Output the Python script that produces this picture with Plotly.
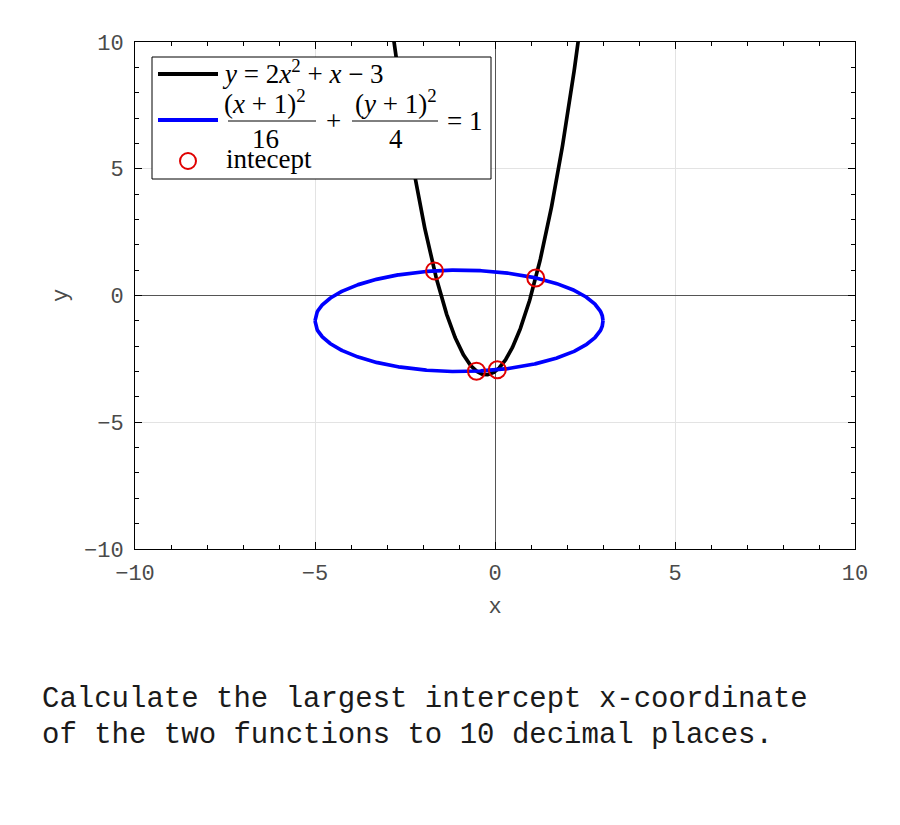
import numpy as np
import plotly.graph_objects as go

# Functions shown in the chart
para_coef = [2, 1, -3]          # y = 2x^2 + x - 3
ell_center = (-1, -1)           # (x+1)^2/16 + (y+1)^2/4 = 1
ell_axes = (4, 2)
x_ticks = [-10, -5, 0, 5, 10]
y_ticks = [-10, -5, 0, 5, 10]
question = ["Calculate the largest intercept x-coordinate",
            "of the two functions to 10 decimal places."]

a, b, c = para_coef
xp = np.linspace(-3.0, 2.5, 400)
yp = a * xp**2 + b * xp + c

h, k = ell_center
A, B = ell_axes
xe = np.linspace(h - A, h + A, 400)
half = B * np.sqrt(np.clip(1 - ((xe - h) / A) ** 2, 0, None))
ex = np.concatenate([xe, [None], xe])
ey = np.concatenate([k + half, [None], k - half])

# intersections: substitute parabola in ellipse -> quartic
p = np.poly1d(para_coef) - k
q = np.poly1d([1, -h])
poly = B**2 * q**2 + A**2 * p**2 - (A * B) ** 2
rts = np.roots(poly.coeffs)
ix = np.sort(rts[np.isreal(rts)].real)
iy = a * ix**2 + b * ix + c

fig = go.Figure()
fig.add_trace(go.Scatter(x=xp, y=yp, mode="lines", line=dict(color="black", width=3.7), showlegend=False))
fig.add_trace(go.Scatter(x=ex, y=ey, mode="lines", line=dict(color="#0000ff", width=3.7), showlegend=False))
fig.add_trace(go.Scatter(x=ix, y=iy, mode="markers",
                         marker=dict(symbol="circle-open", size=17, color="#e00000", line=dict(width=2)),
                         showlegend=False))

# plot area in screen pixels (page body adds an 8px offset)
OFF = 8
L, R, T, Bt = 135, 855, 42, 549
def px(v): return (v - L) / (R - L)
def py(v): return (Bt - v) / (Bt - T)

tickfont = dict(family="Liberation Mono", size=22, color="#4a4a4a")
axis_common = dict(range=[-10, 10], showline=True, linecolor="black", linewidth=1, mirror="ticks",
                   ticks="inside", ticklen=7, tickcolor="black", tickfont=tickfont, automargin=False,
                   showgrid=True, gridcolor="#e3e3e3", gridwidth=1,
                   zeroline=True, zerolinecolor="#555555", zerolinewidth=1,
                   minor=dict(ticks="inside", dtick=1, ticklen=4, tickcolor="black", showgrid=False))
fig.update_xaxes(tickvals=x_ticks, ticklabelstandoff=4,
                 title=dict(text="x", font=tickfont, standoff=11), **axis_common)
fig.update_yaxes(tickvals=y_ticks, ticklabelstandoff=6,
                 title=dict(text="y", font=tickfont, standoff=10), **axis_common)

shapes = []
annos = []
# legend box
shapes.append(dict(type="rect", xref="paper", yref="paper", x0=px(152), x1=px(491), y0=py(179), y1=py(57),
                   line=dict(color="black", width=1), fillcolor="white", layer="above"))
shapes.append(dict(type="line", xref="paper", yref="paper", x0=px(158), x1=px(218), y0=py(74), y1=py(74),
                   line=dict(color="black", width=4), layer="above"))
shapes.append(dict(type="line", xref="paper", yref="paper", x0=px(158), x1=px(218), y0=py(120), y1=py(120),
                   line=dict(color="#0000ff", width=4), layer="above"))
shapes.append(dict(type="circle", xref="paper", yref="paper", x0=px(180), x1=px(196), y0=py(169), y1=py(153),
                   line=dict(color="#e00000", width=2), layer="above"))
shapes.append(dict(type="line", xref="paper", yref="paper", x0=px(228), x1=px(316), y0=py(121), y1=py(121),
                   line=dict(color="black", width=1), layer="above"))
shapes.append(dict(type="line", xref="paper", yref="paper", x0=px(352), x1=px(438), y0=py(121), y1=py(121),
                   line=dict(color="black", width=1), layer="above"))

lf = dict(family="Liberation Serif", size=27, color="black")
def txt(text, x, y, anchor="left"):
    annos.append(dict(text=text, xref="paper", yref="paper", x=px(x), y=py(y), xanchor=anchor,
                      yanchor="middle", showarrow=False, font=lf))
txt("<i>y</i> = 2<i>x</i><sup>2</sup> + <i>x</i> − 3", 220, 72)
txt("(<i>x</i> + 1)<sup>2</sup>", 265, 102, "center")
txt("16", 265, 139, "center")
txt("+", 333, 121, "center")
txt("(<i>y</i> + 1)<sup>2</sup>", 396, 102, "center")
txt("4", 396, 139, "center")
txt("= 1", 445, 121)
txt("intecept", 224, 159)

qf = dict(family="Liberation Mono", size=29, color="#1a1a1a")
for i, line in enumerate(question):
    annos.append(dict(text=line, xref="paper", yref="paper", x=px(40), y=py(699 + 36 * i), xanchor="left",
                      yanchor="middle", showarrow=False, font=qf))

fig.update_layout(width=900, height=825,
                  margin=dict(l=L - OFF, r=900 - (R - OFF), t=T - OFF, b=825 - (Bt - OFF)),
                  plot_bgcolor="white", paper_bgcolor="white", shapes=shapes, annotations=annos)
fig.write_html("out.html")
